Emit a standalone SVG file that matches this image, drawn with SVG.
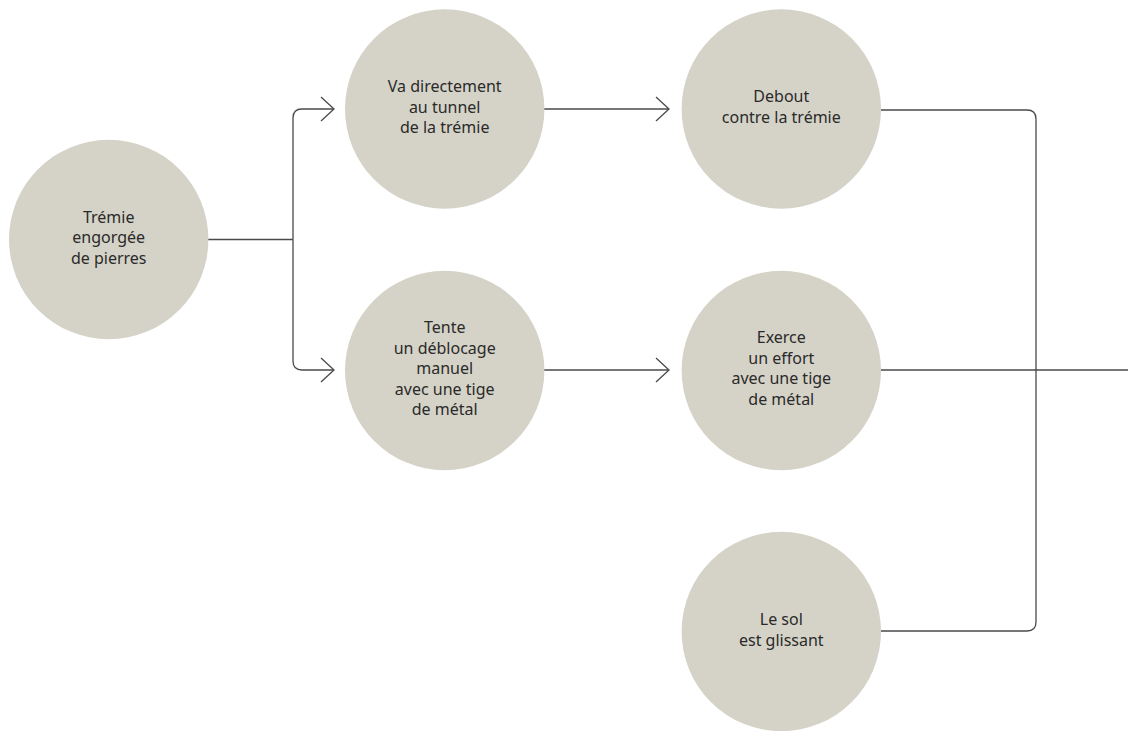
<svg xmlns="http://www.w3.org/2000/svg" width="1128" height="731" viewBox="0 0 1128 731">
<defs>
<style>
.node circle{fill:#d5d3c7}
.node text{font-family:"Noto Sans","Open Sans","Liberation Sans",sans-serif;font-size:16px;fill:#2a2a2a;text-anchor:middle}
.conn path{fill:none;stroke:#4a4a4a;stroke-width:1.3}
</style>
<marker id="chev" markerUnits="userSpaceOnUse" viewBox="-15 -14 17 28" refX="0" refY="0" markerWidth="17" markerHeight="28" orient="auto" overflow="visible">
<path d="M -13 -12 L 0 0 L -13 12" fill="none" stroke="#4a4a4a" stroke-width="1.3"/>
</marker>
</defs>
<rect width="1128" height="731" fill="#ffffff"/>
<g id="connectors" class="conn">
<path d="M 208 239.5 H 293"/>
<path d="M 293 239.5 V 118 Q 293 109 302 109 H 334" marker-end="url(#chev)"/>
<path d="M 293 239.5 V 361 Q 293 370 302 370 H 334" marker-end="url(#chev)"/>
<path d="M 544 109 H 669" marker-end="url(#chev)"/>
<path d="M 544 370 H 669" marker-end="url(#chev)"/>
<path d="M 881 110 H 1027 Q 1036 110 1036 119 V 622 Q 1036 631 1027 631 H 881"/>
<path d="M 881 370 H 1128"/>
</g>
<g id="n1" class="node">
<circle cx="108.7" cy="239.5" r="99.7"/>
<text x="108.7" y="222.7"><tspan x="108.7">Trémie</tspan><tspan x="108.7" dy="20.6">engorgée</tspan><tspan x="108.7" dy="20.6">de pierres</tspan></text>
</g>
<g id="n2" class="node">
<circle cx="444.7" cy="109" r="99.7"/>
<text x="444.7" y="91.9"><tspan x="444.7">Va directement</tspan><tspan x="444.7" dy="20.6">au tunnel</tspan><tspan x="444.7" dy="20.6">de la trémie</tspan></text>
</g>
<g id="n3" class="node">
<circle cx="444.7" cy="370.5" r="99.7"/>
<text x="444.7" y="333.3"><tspan x="444.7">Tente</tspan><tspan x="444.7" dy="20.5">un déblocage</tspan><tspan x="444.7" dy="20.5">manuel</tspan><tspan x="444.7" dy="20.5">avec une tige</tspan><tspan x="444.7" dy="20.5">de métal</tspan></text>
</g>
<g id="n4" class="node">
<circle cx="781.3" cy="109" r="99.7"/>
<text x="781.3" y="101.9"><tspan x="781.3">Debout</tspan><tspan x="781.3" dy="20.6">contre la trémie</tspan></text>
</g>
<g id="n5" class="node">
<circle cx="781.3" cy="370.5" r="99.7"/>
<text x="781.3" y="343"><tspan x="781.3">Exerce</tspan><tspan x="781.3" dy="20.6">un effort</tspan><tspan x="781.3" dy="20.6">avec une tige</tspan><tspan x="781.3" dy="20.6">de métal</tspan></text>
</g>
<g id="n6" class="node">
<circle cx="781.3" cy="631.5" r="99.7"/>
<text x="781.3" y="625"><tspan x="781.3">Le sol</tspan><tspan x="781.3" dy="20.6">est glissant</tspan></text>
</g>
</svg>
